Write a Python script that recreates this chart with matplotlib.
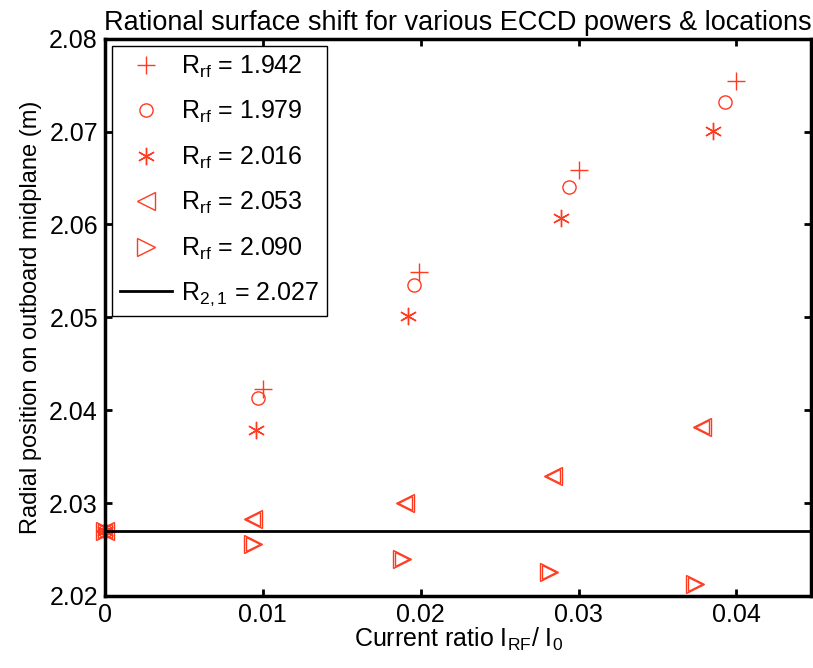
import numpy as np
import matplotlib
matplotlib.use('Agg')
import matplotlib.pyplot as plt
from matplotlib.lines import Line2D

plt.rcParams['font.family'] = ['Liberation Sans', 'DejaVu Sans']
plt.rcParams['mathtext.fontset'] = 'custom'
plt.rcParams['mathtext.rm'] = 'Liberation Sans'
plt.rcParams['mathtext.it'] = 'Liberation Sans'

# data
r_rf_labels = ['1.942', '1.979', '2.016', '2.053', '2.090']
x_1942 = [0.0, 0.0100, 0.0199, 0.0300, 0.0400]
y_1942 = [2.027, 2.0423, 2.0549, 2.0659, 2.0755]
x_1979 = [0.0, 0.0097, 0.0196, 0.0294, 0.0393]
y_1979 = [2.027, 2.0413, 2.0535, 2.0640, 2.0732]
x_2016 = [0.0, 0.0096, 0.0192, 0.0289, 0.0385]
y_2016 = [2.027, 2.0379, 2.0501, 2.0607, 2.0701]
x_2053 = [0.0, 0.0094, 0.0190, 0.0284, 0.0378]
y_2053 = [2.027, 2.0283, 2.0300, 2.0329, 2.0382]
x_2090 = [0.0, 0.0094, 0.0188, 0.0281, 0.0374]
y_2090 = [2.027, 2.0256, 2.0240, 2.0226, 2.0213]
r21 = 2.027

red = '#ff3a1f'
asterisk = (6, 2, 0)

fig = plt.figure(figsize=(8.13, 6.68), dpi=100)
ax = fig.add_axes([0.129, 0.108, 0.869, 0.834])

ax.plot(x_1942, y_1942, ls='none', marker='+', ms=12.5, mew=1.0, color=red, clip_on=False)
ax.plot(x_1979, y_1979, ls='none', marker='o', ms=9.5, mew=1.0, mfc='none', mec=red, clip_on=False)
ax.plot(x_2016, y_2016, ls='none', marker=asterisk, ms=12.5, mew=1.0, color=red, clip_on=False)
# triangles are drawn twice in the original (double outline)
for ms in (12.5, 9.5):
    ax.plot(x_2053, y_2053, ls='none', marker='<', ms=ms, mew=1.0, mfc='none', mec=red, clip_on=False)
    ax.plot(x_2090, y_2090, ls='none', marker='>', ms=ms, mew=1.0, mfc='none', mec=red, clip_on=False)
ax.axhline(r21, color='k', lw=2.0)

ax.set_xlim(0, 0.04475)
ax.set_ylim(2.02, 2.08)
ax.set_xticks([0, 0.01, 0.02, 0.03, 0.04])
ax.set_xticklabels(['0', '0.01', '0.02', '0.03', '0.04'])
ax.set_yticks(np.arange(2.02, 2.0801, 0.01))
ax.set_yticklabels(['2.02', '2.03', '2.04', '2.05', '2.06', '2.07', '2.08'])
ax.tick_params(direction='in', length=5, width=2, top=True, right=True,
               labelsize=18, pad=5)
for s in ax.spines.values():
    s.set_linewidth(2.5)

ax.set_title('Rational surface shift for various ECCD powers & locations',
             fontsize=19.5, pad=6)
ax.set_xlabel(r'Current ratio I$_{RF}$/ I$_0$', fontsize=18, labelpad=-1)
ax.set_ylabel('Radial position on outboard midplane (m)', fontsize=17, labelpad=5)

handles = [
    Line2D([], [], ls='none', marker='+', ms=12.5, color=red),
    Line2D([], [], ls='none', marker='o', ms=9.5, mfc='none', mec=red),
    Line2D([], [], ls='none', marker=asterisk, ms=12.5, color=red),
    Line2D([], [], ls='none', marker='<', ms=12.5, mfc='none', mec=red),
    Line2D([], [], ls='none', marker='>', ms=12.5, mfc='none', mec=red),
    Line2D([], [], color='k', lw=2.0),
]
labels = [r'R$_{rf}$ = ' + v for v in r_rf_labels] + [r'R$_{2,1}$ = 2.027']
leg = ax.legend(handles, labels, loc='upper left', fontsize=18, frameon=True,
                fancybox=False, edgecolor='k', framealpha=1,
                borderaxespad=0.3, handlelength=2.1, labelspacing=0.77,
                borderpad=0.3, handletextpad=0.35)
leg.get_frame().set_linewidth(1.0)

fig.savefig('out.png', dpi=100)
